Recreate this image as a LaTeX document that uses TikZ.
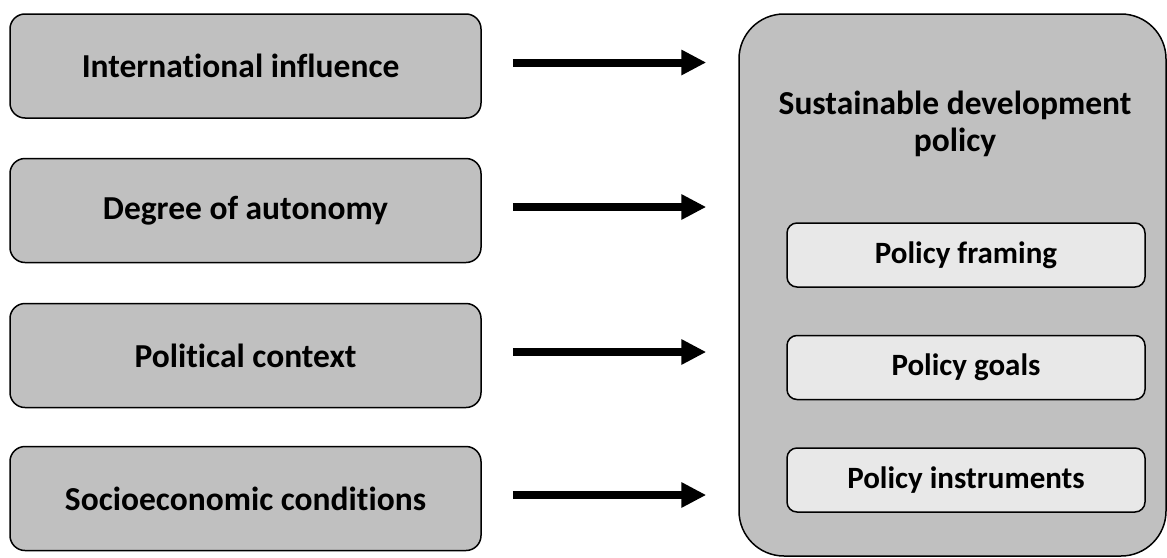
\documentclass[tikz,border=0pt]{standalone}
\usepackage{fontspec}
\setmainfont[Ligatures=NoCommon]{Carlito}
\usetikzlibrary{arrows.meta}
\definecolor{boxgray}{HTML}{C0C0C0}
\definecolor{innergray}{HTML}{E8E8E8}
\tikzset{
  factor/.style={draw=black, line width=1.5pt, fill=boxgray, rounded corners=15pt,
    minimum width=471pt, minimum height=104pt, inner sep=0pt,
    font=\fontsize{33.5}{40}\selectfont\bfseries},
  policybox/.style={draw=black, line width=1.5pt, fill=boxgray, rounded corners=45pt,
    minimum width=427pt, minimum height=542pt, inner sep=0pt},
  title/.style={align=center, font=\fontsize{33.5}{37.5}\selectfont\bfseries},
  part/.style={draw=black, line width=1.5pt, fill=innergray, rounded corners=10pt,
    minimum width=358pt, minimum height=64pt, inner sep=0pt,
    font=\fontsize{31}{36}\selectfont\bfseries},
  bigarrow/.style={line width=8pt, -{Triangle[length=25pt,width=24pt]},
    shorten <=31pt, shorten >=32pt}
}
\begin{document}
\begin{tikzpicture}[x=1pt,y=-1pt]
\useasboundingbox (0,0) rectangle (1167,557);
\node[factor] (f1) at (245.5,66) {International influence\kern10pt};
\node[factor] (f2) at (245.5,210.5) {Degree of autonomy};
\node[factor] (f3) at (245.5,355.5) {Political context};
\node[factor] (f4) at (245.5,498.5) {Socioeconomic conditions};
\node[policybox] (sdp) at (952.5,285) {};
\node[title] (t) at (955,124) {Sustainable development\\policy};
\node[part] (p1) at (966,255) {Policy framing};
\node[part] (p2) at (966,367.5) {Policy goals};
\node[part] (p3) at (966,480) {Policy instruments};
\foreach \i in {1,2,3,4}{
  \draw[bigarrow] ([yshift=3.5pt]f\i.east) -- ([yshift=3.5pt]f\i.east -| sdp.west);
}
\end{tikzpicture}
\end{document}
